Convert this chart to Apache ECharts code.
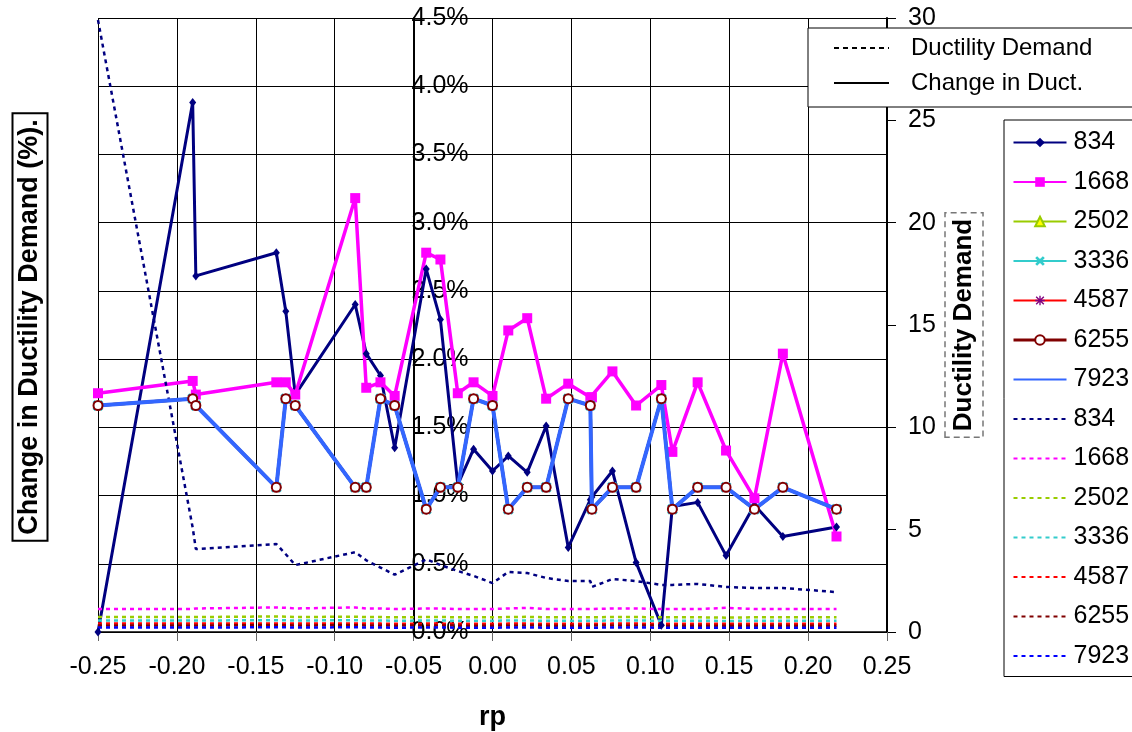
<!DOCTYPE html>
<html><head><meta charset="utf-8">
<script src="https://cdn.jsdelivr.net/npm/echarts@6/dist/echarts.min.js"></script>
<style>html,body{margin:0;padding:0;background:#fff}#c{width:1132px;height:732px}</style>
</head><body><div id="c"></div>
<script>
const FONT = '"Liberation Sans", Arial, sans-serif';

// rp values (x)
const rp = [-0.250, -0.190, -0.188, -0.137, -0.131, -0.125, -0.087, -0.080, -0.071, -0.062,
            -0.042, -0.033, -0.022, -0.012, 0.000, 0.010, 0.022, 0.034, 0.048, 0.062,
            0.063, 0.076, 0.091, 0.107, 0.114, 0.130, 0.148, 0.166, 0.184, 0.218];

// Change in ductility demand (%) — left axis
const chg834  = [0.00, 3.88, 2.61, 2.78, 2.35, 1.74, 2.40, 2.04, 1.88, 1.35,
                 2.66, 2.29, 1.08, 1.34, 1.18, 1.29, 1.17, 1.51, 0.62, 0.97,
                 0.99, 1.18, 0.51, 0.05, 0.92, 0.95, 0.56, 0.93, 0.70, 0.77];
const chg1668 = [1.75, 1.84, 1.74, 1.83, 1.83, 1.74, 3.18, 1.79, 1.83, 1.73,
                 2.78, 2.73, 1.75, 1.83, 1.73, 2.21, 2.30, 1.71, 1.82, 1.72,
                 1.72, 1.91, 1.66, 1.81, 1.32, 1.83, 1.33, 0.98, 2.04, 0.70];
// series 2502, 3336, 4587, 6255 and 7923 coincide
const chgUpper = [1.66, 1.71, 1.66, 1.06, 1.71, 1.66, 1.06, 1.06, 1.71, 1.66,
                  0.90, 1.06, 1.06, 1.71, 1.66, 0.90, 1.06, 1.06, 1.71, 1.66,
                  0.90, 1.06, 1.06, 1.71, 0.90, 1.06, 1.06, 0.90, 1.06, 0.90];

// Ductility demand — right axis
const dd834  = [29.9, 5.10, 4.05, 4.30, 3.80, 3.27, 3.90, 3.50, 3.15, 2.80,
                3.55, 3.27, 2.98, 2.74, 2.39, 2.93, 2.88, 2.64, 2.49, 2.49,
                2.20, 2.59, 2.49, 2.30, 2.30, 2.35, 2.20, 2.15, 2.15, 1.95];
const dd1668 = [1.12, 1.12, 1.15, 1.20, 1.18, 1.15, 1.20, 1.15, 1.15, 1.12,
                1.15, 1.15, 1.12, 1.12, 1.12, 1.15, 1.18, 1.12, 1.12, 1.12,
                1.10, 1.15, 1.15, 1.12, 1.12, 1.12, 1.18, 1.12, 1.12, 1.12];
const dd2502 = [0.73, 0.73, 0.73, 0.76, 0.75, 0.73, 0.75, 0.73, 0.73, 0.72,
                0.73, 0.73, 0.72, 0.72, 0.72, 0.73, 0.74, 0.72, 0.72, 0.72,
                0.70, 0.73, 0.73, 0.72, 0.72, 0.72, 0.70, 0.72, 0.72, 0.72];
const dd3336 = [0.56, 0.56, 0.56, 0.58, 0.57, 0.56, 0.58, 0.56, 0.56, 0.55,
                0.56, 0.56, 0.55, 0.55, 0.55, 0.56, 0.56, 0.55, 0.55, 0.55,
                0.54, 0.56, 0.56, 0.55, 0.55, 0.55, 0.54, 0.55, 0.55, 0.55];
const dd4587 = [0.41, 0.41, 0.41, 0.42, 0.42, 0.41, 0.42, 0.41, 0.41, 0.40,
                0.41, 0.41, 0.40, 0.40, 0.40, 0.41, 0.41, 0.40, 0.40, 0.40,
                0.40, 0.41, 0.41, 0.40, 0.40, 0.40, 0.40, 0.40, 0.40, 0.40];
const dd6255 = [0.32, 0.32, 0.32, 0.33, 0.33, 0.32, 0.33, 0.32, 0.32, 0.31,
                0.32, 0.32, 0.31, 0.31, 0.31, 0.32, 0.32, 0.31, 0.31, 0.31,
                0.31, 0.32, 0.32, 0.31, 0.31, 0.31, 0.31, 0.31, 0.31, 0.31];
const dd7923 = [0.22, 0.22, 0.22, 0.23, 0.23, 0.22, 0.23, 0.22, 0.22, 0.21,
                0.22, 0.22, 0.21, 0.21, 0.21, 0.22, 0.22, 0.21, 0.21, 0.21,
                0.21, 0.22, 0.22, 0.21, 0.21, 0.21, 0.21, 0.21, 0.21, 0.21];

const pairs = arr => rp.map((x, i) => [x, arr[i]]);

const X_PATH = 'path://M2,0L5,3L8,0L10,2L7,5L10,8L8,10L5,7L2,10L0,8L3,5L0,2Z';
const STAR_PATH = 'path://M4.3,0H5.7V10H4.3Z M0,4.3H10V5.7H0Z M1.5,0.5L5,4L8.5,0.5L9.5,1.5L6,5L9.5,8.5L8.5,9.5L5,6L1.5,9.5L0.5,8.5L4,5L0.5,1.5Z';

function solid(name, arr, o) {
  return Object.assign({
    name, type: 'line', yAxisIndex: 0, data: pairs(arr),
    showSymbol: true, animation: false, z: 2
  }, o);
}
function dotted(name, arr, color) {
  return {
    name: name + ' DD', type: 'line', yAxisIndex: 1, data: pairs(arr),
    symbol: 'none', animation: false, z: 2,
    lineStyle: { color, width: 2.5, type: [4, 4] }, itemStyle: { color }
  };
}

const series = [
  solid('834', chg834, { symbol: 'diamond', symbolSize: [7, 9],
    itemStyle: { color: '#000080' }, lineStyle: { color: '#000080', width: 3 } }),
  solid('1668', chg1668, { symbol: 'rect', symbolSize: 10,
    itemStyle: { color: '#FF00FF' }, lineStyle: { color: '#FF00FF', width: 3.5 } }),
  solid('2502', chgUpper, { symbol: 'triangle', symbolSize: 8,
    itemStyle: { color: '#FFFF00', borderColor: '#99CC00', borderWidth: 1 }, lineStyle: { color: '#99CC00', width: 3 } }),
  solid('3336', chgUpper, { symbol: X_PATH, symbolSize: 11,
    itemStyle: { color: '#33CCCC' }, lineStyle: { color: '#33CCCC', width: 3 } }),
  solid('4587', chgUpper, { symbol: STAR_PATH, symbolSize: 10,
    itemStyle: { color: '#800080' }, lineStyle: { color: '#FF0000', width: 3 } }),
  solid('6255', chgUpper, { symbol: 'circle', symbolSize: 9, z: 4,
    itemStyle: { color: '#FFFFFF', borderColor: '#800000', borderWidth: 2 },
    lineStyle: { color: '#800000', width: 3, opacity: 0 } }),
  solid('7923', chgUpper, { symbol: 'none', z: 3,
    itemStyle: { color: '#3366FF' }, lineStyle: { color: '#3366FF', width: 4 } }),
  dotted('834', dd834, '#000080'),
  dotted('1668', dd1668, '#FF00FF'),
  dotted('2502', dd2502, '#99CC00'),
  dotted('3336', dd3336, '#33CCCC'),
  dotted('4587', dd4587, '#FF0000'),
  dotted('6255', dd6255, '#800000'),
  dotted('7923', dd7923, '#0000FF'),
  { name: 'Ductility Demand', type: 'line', yAxisIndex: 1, data: [], symbol: 'none',
    lineStyle: { color: '#000', width: 1.5, type: [5, 4] }, itemStyle: { color: '#000' } },
  { name: 'Change in Duct.', type: 'line', yAxisIndex: 0, data: [], symbol: 'none',
    lineStyle: { color: '#000', width: 1.5 }, itemStyle: { color: '#000' } }
];

const HIDE_SYMBOL = { opacity: 0 };
const legendNames = ['834', '1668', '2502', '3336', '4587', '6255', '7923'];
const legendData = legendNames.map(n => {
    if (n === '6255') return { name: n, lineStyle: { opacity: 1, color: '#800000', width: 3 } };
    if (n === '7923') return { name: n, itemStyle: HIDE_SYMBOL };
    return { name: n };
  })
  .concat(legendNames.map(n => ({ name: n + ' DD', itemStyle: HIDE_SYMBOL })));

const option = {
  animation: false,
  backgroundColor: '#fff',
  grid: { left: 98, right: 245, top: 18, bottom: 100, containLabel: false, outerBoundsMode: 'none' },
  xAxis: {
    type: 'value', min: -0.25, max: 0.25, interval: 0.05,
    axisLine: { onZero: false, lineStyle: { color: '#000', width: 1.5 } },
    axisTick: { show: true, length: 9, lineStyle: { color: '#666' } },
    axisLabel: { formatter: v => (Math.abs(v) < 1e-9 ? 0 : v).toFixed(2), fontSize: 25,
      color: '#000', margin: 23, fontFamily: FONT, showMinLabel: true, showMaxLabel: true },
    splitLine: { show: true, lineStyle: { color: '#000', width: 1 } },
    name: 'rp', nameLocation: 'middle', nameGap: 72,
    nameTextStyle: { fontSize: 27, fontWeight: 'bold', color: '#000', fontFamily: FONT }
  },
  yAxis: [
    {
      type: 'value', min: 0, max: 4.5, interval: 0.5, position: 'left', offset: -315.6,
      axisLine: { show: true, onZero: false, lineStyle: { color: '#000', width: 2 } },
      axisTick: { show: false },
      axisLabel: { inside: true, margin: -2, formatter: v => v.toFixed(1) + '%', fontSize: 25,
        color: '#000', fontFamily: FONT, showMinLabel: true, showMaxLabel: true },
      splitLine: { show: true, lineStyle: { color: '#000', width: 1 } }
    },
    {
      type: 'value', min: 0, max: 30, interval: 5, position: 'right',
      axisLine: { show: true, onZero: false, lineStyle: { color: '#000', width: 2 } },
      axisTick: { show: true, length: 9, lineStyle: { color: '#000' } },
      axisLabel: { margin: 21, fontSize: 25, color: '#000', fontFamily: FONT },
      splitLine: { show: false }
    }
  ],
  legend: [
    {
      orient: 'vertical', left: 1004, top: 120, itemWidth: 53, itemHeight: 12, itemGap: 14.5,
      padding: [10, 20, 8, 8], borderColor: '#000', borderWidth: 1, backgroundColor: '#fff',
      selectedMode: false,
      textStyle: { fontSize: 25, fontFamily: FONT, color: '#000', lineHeight: 25, padding: [0, 0, 0, 2] },
      formatter: n => n.split(' ')[0],
      data: legendData
    },
    {
      orient: 'vertical', left: 808, top: 28, itemWidth: 55, itemHeight: 12, itemGap: 11,
      padding: [8, 45, 12, 25], borderColor: '#000', borderWidth: 1, backgroundColor: '#fff',
      selectedMode: false,
      textStyle: { fontSize: 24, fontFamily: FONT, color: '#000', lineHeight: 24, padding: [0, 0, 0, 17] },
      data: [{ name: 'Ductility Demand', itemStyle: HIDE_SYMBOL },
             { name: 'Change in Duct.', itemStyle: HIDE_SYMBOL }]
    }
  ],
  graphic: [
    { type: 'text', x: 30, y: 327, rotation: Math.PI / 2, z: 10,
      style: { text: 'Change in Ductility Demand (%).', fontSize: 27, fontWeight: 'bold', fontFamily: FONT,
        fill: '#000', align: 'center', verticalAlign: 'middle',
        borderColor: '#000', borderWidth: 2, padding: [3, 5], backgroundColor: '#fff' } },
    { type: 'text', x: 964, y: 325, rotation: Math.PI / 2, z: 10,
      style: { text: 'Ductility Demand', fontSize: 26, fontWeight: 'bold', fontFamily: FONT,
        fill: '#000', align: 'center', verticalAlign: 'middle',
        borderColor: '#777', borderWidth: 1.5, borderDash: [6, 4], padding: [6, 6] } }
  ],
  series
};

const chart = echarts.init(document.getElementById('c'), null, { renderer: 'canvas' });
chart.setOption(option);
</script>
</body></html>
